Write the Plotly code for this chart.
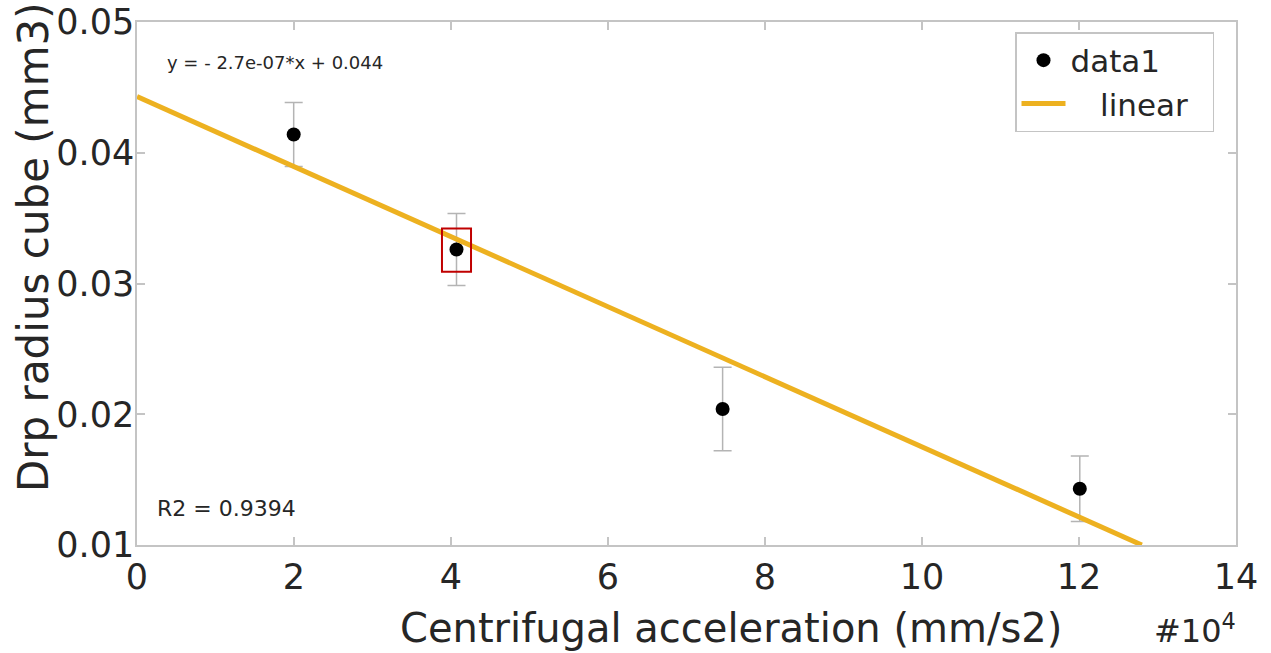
import plotly.graph_objects as go

# data (x in units of 1e4 mm/s2)
x_vals = [1.996, 4.07, 7.46, 12.01]
y_vals = [0.0414, 0.0326, 0.0204, 0.0143]
y_err = [0.00245, 0.00275, 0.0032, 0.0025]

fit_x = [0.0, 12.8]
fit_y = [0.0443, 0.0100]

x_ticks = [0, 2, 4, 6, 8, 10, 12, 14]
y_ticks = [0.01, 0.02, 0.03, 0.04, 0.05]
y_tick_labels = ["0.01", "0.02", "0.03", "0.04", "0.05"]

FONT = "DejaVu Sans"
TXT = "#262626"
AX = "#c4c4c4"

fig = go.Figure()
fig.add_trace(go.Scatter(
    x=x_vals, y=y_vals, mode="markers", name="data1",
    marker=dict(color="black", size=14),
    error_y=dict(type="data", array=y_err, color="#b4b4b4", thickness=1.5, width=9),
))
fig.add_trace(go.Scatter(
    x=fit_x, y=fit_y, mode="lines", name="\u00a0\u00a0\u00a0linear\u00a0\u00a0",
    line=dict(color="#EDB120", width=5),
))

# highlight box around second point
hx, hy = x_vals[1], y_vals[1]
fig.add_shape(type="rect", xref="x", yref="y",
              x0=hx - 0.185, x1=hx + 0.185, y0=hy - 0.0017, y1=hy + 0.0016,
              line=dict(color="#c00000", width=2))

W, H = 1271, 653
L, R, T, B = 137, 35, 22, 108
pw, ph = W - L - R, H - T - B

def px(x):
    return (x - L) / pw

def py(y):
    return (H - B - y) / ph

fig.add_annotation(text="y = - 2.7e-07*x + 0.044", x=px(165), y=py(63), xref="paper", yref="paper",
                   xanchor="left", yanchor="middle", showarrow=False,
                   font=dict(family=FONT, size=18, color=TXT))
fig.add_annotation(text="R2 = 0.9394", x=px(155), y=py(508), xref="paper", yref="paper",
                   xanchor="left", yanchor="middle", showarrow=False,
                   font=dict(family=FONT, size=22, color=TXT))
fig.add_annotation(text="#10<sup>4</sup>", x=px(1152), y=py(652), xref="paper", yref="paper",
                   xanchor="left", yanchor="bottom", showarrow=False,
                   font=dict(family=FONT, size=32, color=TXT))
# axis titles
fig.add_annotation(text="Centrifugal acceleration (mm/s2)", x=px(731), y=py(628), xref="paper", yref="paper",
                   xanchor="center", yanchor="middle", showarrow=False,
                   font=dict(family=FONT, size=40, color=TXT))
fig.add_annotation(text="Drp radius cube (mm3)", x=px(34), y=py(247), xref="paper", yref="paper",
                   xanchor="center", yanchor="middle", showarrow=False, textangle=-90,
                   font=dict(family=FONT, size=42, color=TXT))

fig.update_layout(
    width=W, height=H,
    margin=dict(l=L, r=R, t=T, b=B),
    paper_bgcolor="white", plot_bgcolor="white",
    font=dict(family=FONT, color=TXT),
    showlegend=True,
    legend=dict(x=px(1015), y=py(32), xanchor="left", yanchor="top",
                bgcolor="white", bordercolor="#c4c4c4", borderwidth=1.5,
                font=dict(family=FONT, size=31, color=TXT),
                itemwidth=44, tracegroupgap=0),
)
fig.update_xaxes(
    range=[0, 14], tickvals=x_ticks, ticktext=[str(v) for v in x_ticks],
    showgrid=False, zeroline=False, automargin=False,
    showline=True, linecolor=AX, linewidth=1.5, mirror="ticks",
    ticks="inside", ticklen=8, tickcolor=AX, tickwidth=1.5,
    tickfont=dict(family=FONT, size=35, color=TXT),
)
fig.update_yaxes(
    range=[0.01, 0.05], tickvals=y_ticks, ticktext=y_tick_labels,
    showgrid=False, zeroline=False, automargin=False,
    showline=True, linecolor=AX, linewidth=1.5, mirror="ticks",
    ticks="inside", ticklen=8, tickcolor=AX, tickwidth=1.5,
    tickfont=dict(family=FONT, size=35, color=TXT),
    ticklabelstandoff=-6,
)

fig.write_html("out.html")
